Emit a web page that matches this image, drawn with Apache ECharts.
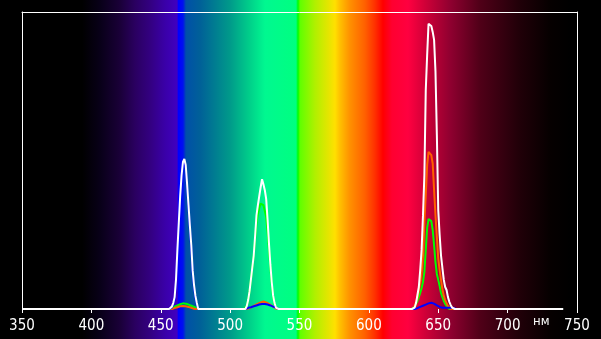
<!DOCTYPE html>
<html>
<head>
<meta charset="utf-8">
<script src="https://cdn.jsdelivr.net/npm/echarts@6/dist/echarts.min.js"></script>
<style>
html,body{margin:0;padding:0;background:#000;}
#chart{width:601px;height:339px;}
</style>
</head>
<body>
<div id="chart"></div>
<script>
// ---- data (wavelength, nm; relative intensity 0..1) ----
const wlStart = 350;
const wlEnd = 740;
const xTicks = [350, 400, 450, 500, 550, 600, 650, 700, 750];
const unitLabel = 'нм';

// white (total) curve, three peaks
const whiteBlueStart = 457;
const whiteBlue = [0, 0.008, 0.02, 0.04, 0.10, 0.20, 0.29, 0.38, 0.45, 0.495, 0.505, 0.485, 0.42, 0.35, 0.28, 0.215, 0.13, 0.08, 0.044, 0.02, 0];
const whiteGreenStart = 511;
const whiteGreen = [0, 0.01, 0.03, 0.06, 0.10, 0.14, 0.18, 0.245, 0.315, 0.35, 0.38, 0.41, 0.437, 0.42, 0.40, 0.37, 0.30, 0.22, 0.15, 0.09, 0.045, 0.02, 0.005, 0];
const whiteRedStart = 632;
const whiteRed = [0, 0.005, 0.02, 0.047, 0.074, 0.131, 0.199, 0.316, 0.45, 0.737, 0.855, 0.96, 0.966, 0.953, 0.933, 0.906, 0.80, 0.586, 0.333, 0.25, 0.18, 0.138, 0.098, 0.074, 0.064, 0.04, 0.024, 0.013, 0.005, 0];

// red channel (orange line)
const redBlueStart = 459;
const redBlue = [0, 0.003, 0.005, 0.006, 0.008, 0.009, 0.01, 0.01, 0.01, 0.009, 0.008, 0.007, 0.005, 0.004, 0.002, 0.001, 0];
const redGreenStart = 513;
const redGreen = [0, 0.003, 0.006, 0.008, 0.011, 0.013, 0.016, 0.018, 0.02, 0.022, 0.024, 0.025, 0.024, 0.022, 0.02, 0.017, 0.014, 0.011, 0.008, 0.005, 0.003, 0];
const redRedStart = 632;
const redRed = [0, 0.01, 0.024, 0.037, 0.064, 0.088, 0.125, 0.18, 0.293, 0.384, 0.485, 0.529, 0.529, 0.518, 0.49, 0.40, 0.316, 0.242, 0.17, 0.131, 0.098, 0.067, 0.044, 0.03, 0.02, 0.01, 0.007, 0];

// green channel
const greenBlueStart = 457;
const greenBlue = [0, 0.002, 0.005, 0.008, 0.01, 0.012, 0.014, 0.016, 0.018, 0.019, 0.019, 0.018, 0.017, 0.015, 0.013, 0.011, 0.009, 0.007, 0.005, 0.003, 0];
const greenGreenStart = 511;
const greenGreen = [0, 0.01, 0.03, 0.06, 0.1, 0.14, 0.18, 0.235, 0.29, 0.32, 0.34, 0.355, 0.36, 0.35, 0.33, 0.31, 0.26, 0.2, 0.14, 0.085, 0.04, 0.018, 0.005, 0];
const greenRedStart = 632;
const greenRed = [0, 0.008, 0.017, 0.027, 0.04, 0.054, 0.071, 0.091, 0.125, 0.199, 0.273, 0.303, 0.306, 0.296, 0.266, 0.215, 0.158, 0.118, 0.098, 0.077, 0.054, 0.04, 0.027, 0.017, 0.01, 0.005, 0];

// blue channel
const blueBlueStart = 457;
const blueBlue = [0, 0.005, 0.015, 0.03, 0.09, 0.19, 0.28, 0.37, 0.44, 0.485, 0.495, 0.475, 0.41, 0.34, 0.27, 0.205, 0.12, 0.072, 0.038, 0.015, 0];
const blueGreenStart = 511;
const blueGreen = [0, 0.002, 0.004, 0.005, 0.006, 0.008, 0.009, 0.011, 0.012, 0.014, 0.015, 0.016, 0.017, 0.017, 0.017, 0.016, 0.015, 0.013, 0.012, 0.01, 0.008, 0.006, 0.005, 0.003, 0];
const blueRedStart = 633;
const blueRed = [0, 0.002, 0.003, 0.005, 0.007, 0.009, 0.011, 0.013, 0.015, 0.017, 0.019, 0.02, 0.021, 0.02, 0.018, 0.015, 0.012, 0.009, 0.007, 0.005, 0.004, 0.004, 0.004, 0.004, 0.004, 0.004, 0.004, 0.004, 0.004, 0.004, 0];

function build(segments) {
  const out = [];
  for (let wl = wlStart; wl <= wlEnd; wl++) {
    let v = 0;
    for (const [start, vals] of segments) {
      const i = wl - start;
      if (i >= 0 && i < vals.length) v = vals[i];
    }
    out.push([wl, v]);
  }
  return out;
}

const whiteData = build([[whiteBlueStart, whiteBlue], [whiteGreenStart, whiteGreen], [whiteRedStart, whiteRed]]);
const redData = build([[redBlueStart, redBlue], [redGreenStart, redGreen], [redRedStart, redRed]]);
const greenData = build([[greenBlueStart, greenBlue], [greenGreenStart, greenGreen], [greenRedStart, greenRed]]);
const blueData = build([[blueBlueStart, blueBlue], [blueGreenStart, blueGreen], [blueRedStart, blueRed]]);

// ---- chart ----
const W = 601, H = 339;
const bgStops = [
  [0, '#000000'], [82, '#000000'], [100, '#080018'], [120, '#1a0038'], [135, '#2a0060'],
  [150, '#330080'], [165, '#3a00a8'], [177, '#4000c0'], [178.5, '#0000ff'], [183, '#0010f0'],
  [186, '#0050a8'], [200, '#006098'], [230, '#009a8a'], [250, '#00d08a'], [265, '#00f890'],
  [296, '#00ff80'], [298, '#00ff00'], [300, '#60ff00'], [315, '#b0f000'], [335, '#ffe000'],
  [340, '#ffc000'], [350, '#ff9000'], [365, '#ff6000'], [375, '#ff3000'], [383, '#ff0000'],
  [392, '#ff0030'], [408, '#ff0040'], [425, '#d00038'], [450, '#900030'], [480, '#500018'],
  [520, '#200008'], [550, '#060000'], [570, '#000000'], [601, '#000000']
];

const chart = echarts.init(document.getElementById('chart'), null, {renderer: 'canvas'});
const font = '"Liberation Sans Narrow", "DejaVu Sans Condensed", "Liberation Sans", sans-serif';

function lineSeries(name, data, color, z) {
  return {
    name, type: 'line', data, z,
    showSymbol: false, symbol: 'none',
    lineStyle: {color, width: 2},
    animation: false, silent: true
  };
}

chart.setOption({
  backgroundColor: '#000',
  animation: false,
  graphic: [
    {
      type: 'rect', z: -100, silent: true,
      shape: {x: 0, y: 0, width: W, height: H},
      style: {
        fill: new echarts.graphic.LinearGradient(0, 0, 1, 0,
          bgStops.map(s => ({offset: s[0] / W, color: s[1]})))
      }
    },
    {
      type: 'text', z: 100, silent: true,
      left: 533, top: 315,
      style: {text: unitLabel, fill: '#ffffff', font: '13px ' + font}
    }
  ],
  grid: {left: 22, right: 24, top: 12, bottom: 30, show: false},
  xAxis: [
    {
      type: 'value', min: 350, max: 750, interval: 50, position: 'bottom',
      axisLine: {show: false},
      axisTick: {show: true, length: 4, lineStyle: {color: '#fff', width: 1}},
      splitLine: {show: false},
      axisLabel: {
        color: '#fff', fontSize: 15, fontFamily: font, margin: 10,
        formatter: v => xTicks.includes(v) ? String(v) : ''
      }
    },
    {
      type: 'value', min: 350, max: 750, position: 'top',
      axisLine: {show: true, onZero: false, lineStyle: {color: '#fff', width: 1}},
      axisTick: {show: false}, axisLabel: {show: false}, splitLine: {show: false}
    }
  ],
  yAxis: [
    {
      type: 'value', min: 0, max: 1, position: 'left',
      axisLine: {show: true, onZero: false, lineStyle: {color: '#fff', width: 1}},
      axisTick: {show: false}, axisLabel: {show: false}, splitLine: {show: false}
    },
    {
      type: 'value', min: 0, max: 1, position: 'right',
      axisLine: {show: true, onZero: false, lineStyle: {color: '#fff', width: 1}},
      axisTick: {show: false}, axisLabel: {show: false}, splitLine: {show: false}
    }
  ],
  series: [
    lineSeries('green', greenData, '#00ff00', 2),
    lineSeries('red', redData, '#ff6000', 3),
    lineSeries('blue', blueData, '#0000ff', 4),
    lineSeries('white', whiteData, '#ffffff', 5)
  ]
});
</script>
</body>
</html>
